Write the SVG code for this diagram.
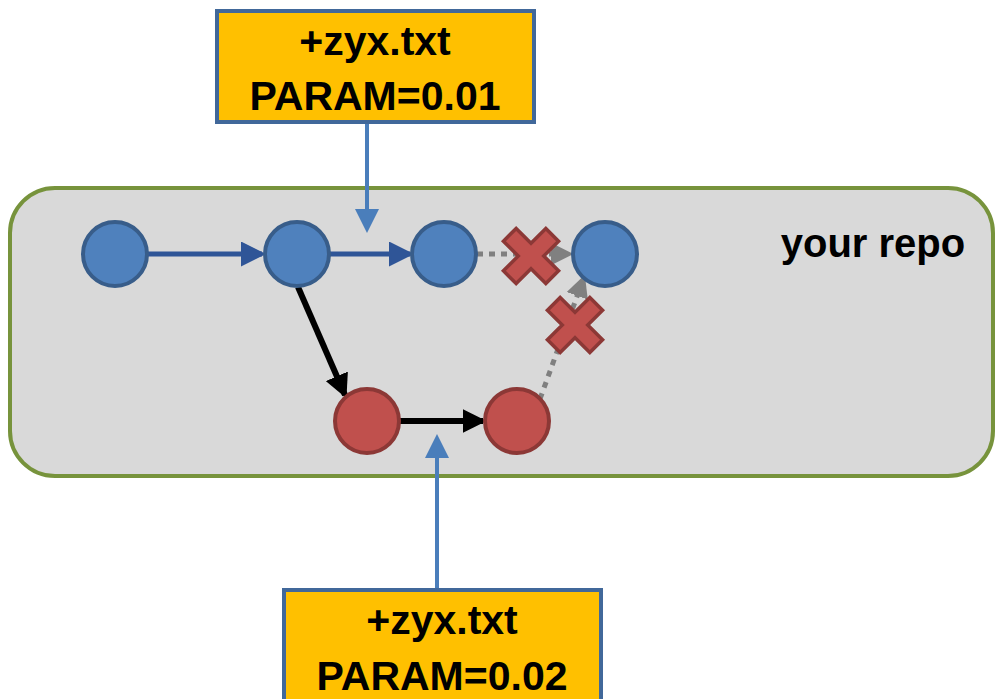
<svg xmlns="http://www.w3.org/2000/svg" width="997" height="699" viewBox="0 0 997 699">
<style>
.blue{fill:#4F81BD;stroke:#385D8A;stroke-width:4}
.red{fill:#C0504D;stroke:#8C3836;stroke-width:4}
.box{fill:#FFC000;stroke:#41689A;stroke-width:4}
.lbl{font-family:"Liberation Sans",Arial,sans-serif;font-weight:bold;font-size:41px;fill:#000;text-anchor:middle}
.x{fill:#C0504D;stroke:#8C3836;stroke-width:3.5}
</style>
<defs>
<marker id="ab" markerWidth="5" markerHeight="5" refX="4.2" refY="2.5" orient="auto" markerUnits="strokeWidth"><path d="M0,0 L5,2.5 L0,5 z" fill="#2F5597"/></marker>
<marker id="ak" markerWidth="4" markerHeight="4" refX="3.4" refY="2" orient="auto" markerUnits="strokeWidth"><path d="M0,0 L4,2 L0,4 z" fill="#000"/></marker>
<marker id="ag" markerWidth="4.5" markerHeight="4.5" refX="4" refY="2.25" orient="auto" markerUnits="strokeWidth"><path d="M0,0 L4.5,2.25 L0,4.5 z" fill="#808080"/></marker>
<marker id="ac" markerWidth="6" markerHeight="6" refX="5" refY="3" orient="auto" markerUnits="strokeWidth"><path d="M0,0 L6,3 L0,6 z" fill="#4A7EBB"/></marker>
<polygon id="cross" points="-9,-30 9,-30 9,-9 30,-9 30,9 9,9 9,30 -9,30 -9,9 -30,9 -30,-9 -9,-9" transform="rotate(45)"/>
</defs>
<g id="repo">
<rect x="10" y="188" width="983" height="288" rx="45" ry="45" fill="#D9D9D9" stroke="#77933C" stroke-width="4"/>
<text x="873" y="257" class="lbl" style="font-size:40px">your repo</text>
</g>
<g id="connectors">
<line x1="148" y1="254" x2="262" y2="254" stroke="#2F5597" stroke-width="5" marker-end="url(#ab)"/>
<line x1="330" y1="254" x2="410" y2="254" stroke="#2F5597" stroke-width="5" marker-end="url(#ab)"/>
<line x1="298" y1="287" x2="345" y2="395" stroke="#000" stroke-width="6" marker-end="url(#ak)"/>
<line x1="400" y1="421" x2="483" y2="421" stroke="#000" stroke-width="6" marker-end="url(#ak)"/>
<line x1="477" y1="254" x2="571" y2="254" stroke="#808080" stroke-width="5" stroke-dasharray="6 6" marker-end="url(#ag)"/>
<line x1="540" y1="399" x2="584" y2="277" stroke="#808080" stroke-width="5" stroke-dasharray="6 6" marker-end="url(#ag)"/>
<line x1="367" y1="123" x2="367" y2="229" stroke="#4A7EBB" stroke-width="4" marker-end="url(#ac)"/>
<line x1="437" y1="588" x2="437" y2="438" stroke="#4A7EBB" stroke-width="4" marker-end="url(#ac)"/>
</g>
<g id="x1"><use href="#cross" class="x" transform="translate(531,256)"/></g>
<g id="x2"><use href="#cross" class="x" transform="translate(575,325)"/></g>
<g id="c1"><circle cx="115" cy="254" r="32" class="blue"/></g>
<g id="c2"><circle cx="297" cy="254" r="32" class="blue"/></g>
<g id="c3"><circle cx="444" cy="254" r="32" class="blue"/></g>
<g id="c4"><circle cx="605" cy="254" r="32" class="blue"/></g>
<g id="r1"><circle cx="367" cy="421" r="32" class="red"/></g>
<g id="r2"><circle cx="517" cy="421" r="32" class="red"/></g>
<g id="box1">
<rect x="217" y="11" width="317" height="111" class="box"/>
<text x="375" y="55" class="lbl">+zyx.txt</text>
<text x="375" y="110" class="lbl">PARAM=0.01</text>
</g>
<g id="box2">
<rect x="284" y="590" width="317" height="115" class="box"/>
<text x="442" y="634" class="lbl">+zyx.txt</text>
<text x="442" y="690" class="lbl">PARAM=0.02</text>
</g>
</svg>
